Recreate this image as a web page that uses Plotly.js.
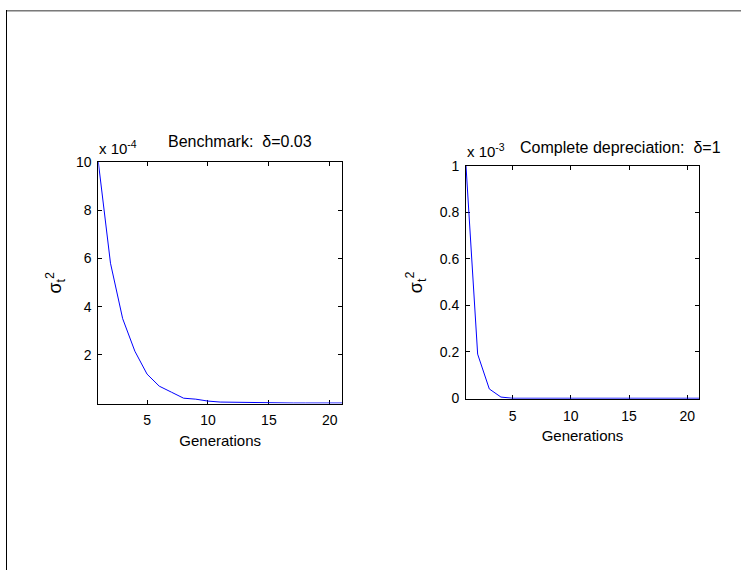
<!DOCTYPE html>
<html>
<head>
<meta charset="utf-8">
<script src="https://cdn.plot.ly/plotly-3.0.1.min.js"></script>
<style>html,body{margin:0;padding:0;background:#fff;}#chart{width:741px;height:570px;}</style>
</head>
<body>
<div id="chart"></div>
<script>
// Generations (x) shared by both panels
var generations = [1,2,3,4,5,6,7,8,9,10,11,12,13,14,15,16,17,18,19,20,21];
// Benchmark δ=0.03, values in units of 1e-4
var benchmarkVar = [10, 5.8, 3.5, 2.15, 1.2, 0.7, 0.45, 0.2, 0.16, 0.08, 0.04, 0.03, 0.01, 0, 0, 0, 0, 0, 0, 0, 0];
// Complete depreciation δ=1, values in units of 1e-3
var completeVar = [1, 0.19, 0.04, 0.005, 0, 0, 0, 0, 0, 0, 0, 0, 0, 0, 0, 0, 0, 0, 0, 0, 0];
var yTicks1 = [2, 4, 6, 8, 10];
var yTicks2 = [0, 0.2, 0.4, 0.6, 0.8, 1];
var xTicks = [5, 10, 15, 20];
var titles = ["Benchmark:\u00a0 δ=0.03", "Complete depreciation:\u00a0 δ=1"];
var exponents = ["x 10<sup>-4</sup>", "x 10<sup>-3</sup>"];
var xLabel = "Generations";
var yLabel = "σ<sub>t</sub><sup>2</sup>";

var W = 741, H = 570;
function px(x){return x / W;}
function py(y){return 1 - y / H;}
var FONT = "Liberation Sans, Arial, sans-serif";

var traces = [
  {x: generations, y: benchmarkVar, type: "scatter", mode: "lines", line: {color: "#0000ff", width: 1}, xaxis: "x", yaxis: "y", hoverinfo: "skip"},
  {x: generations, y: completeVar, type: "scatter", mode: "lines", line: {color: "#0000ff", width: 1}, xaxis: "x2", yaxis: "y2", hoverinfo: "skip"}
];

function axisBase(){
  return {
    showline: true, linecolor: "#000", linewidth: 1, mirror: "ticks",
    ticks: "inside", ticklen: 4, tickcolor: "#000", tickwidth: 1,
    showgrid: false, zeroline: false, layer: "below traces",
    tickfont: {family: FONT, size: 14, color: "#000"}, fixedrange: true
  };
}
var xa1 = Object.assign(axisBase(), {domain: [px(98.3), px(342)], range: [1, 21], tickvals: xTicks, anchor: "y", ticklabelstandoff: 4,
  title: {text: xLabel, font: {family: FONT, size: 15, color: "#000"}, standoff: 8}});
var ya1 = Object.assign(axisBase(), {domain: [py(403.5), py(162)], range: [-0.02, 10], tickvals: yTicks1, anchor: "x", ticklabelstandoff: 3,
  title: {text: yLabel, font: {family: FONT, size: 18, color: "#000"}, standoff: 9}});
var xa2 = Object.assign(axisBase(), {domain: [px(466), px(699)], range: [1, 21], tickvals: xTicks, anchor: "y2", ticklabelstandoff: 4,
  title: {text: xLabel, font: {family: FONT, size: 15, color: "#000"}, standoff: 7}});
var ya2 = Object.assign(axisBase(), {domain: [py(398.7), py(166)], range: [-0.002, 1], tickvals: yTicks2, anchor: "x2", ticklabelstandoff: 3,
  ticktext: ["0","0.2","0.4","0.6","0.8","1"],
  title: {text: yLabel, font: {family: FONT, size: 18, color: "#000"}, standoff: 12}});

var layout = {
  width: W, height: H,
  margin: {l: 0, r: 0, t: 0, b: 0, autoexpand: false},
  paper_bgcolor: "#fff", plot_bgcolor: "#fff",
  showlegend: false,
  xaxis: xa1, yaxis: ya1, xaxis2: xa2, yaxis2: ya2,
  annotations: [
    {text: titles[0], xref: "paper", yref: "paper", x: px(166), y: py(141.5), xanchor: "left", yanchor: "middle", showarrow: false, font: {family: FONT, size: 16, color: "#000"}},
    {text: titles[1], xref: "paper", yref: "paper", x: px(518), y: py(148), xanchor: "left", yanchor: "middle", showarrow: false, font: {family: FONT, size: 16, color: "#000"}},
    {text: exponents[0], xref: "paper", yref: "paper", x: px(97), y: py(147), xanchor: "left", yanchor: "middle", showarrow: false, font: {family: FONT, size: 15, color: "#000"}},
    {text: exponents[1], xref: "paper", yref: "paper", x: px(465), y: py(151), xanchor: "left", yanchor: "middle", showarrow: false, font: {family: FONT, size: 15, color: "#000"}}
  ],
  shapes: [
    {type: "line", xref: "paper", yref: "paper", x0: px(6), x1: 1, y0: py(10.5), y1: py(10.5), line: {color: "#7a7a7a", width: 1}},
    {type: "line", xref: "paper", yref: "paper", x0: px(6), x1: 1, y0: py(11.5), y1: py(11.5), line: {color: "#b8b8b8", width: 1}},
    {type: "line", xref: "paper", yref: "paper", x0: px(6.5), x1: px(6.5), y0: py(10), y1: 0, line: {color: "#000", width: 1}}
  ]
};
Plotly.newPlot("chart", traces, layout, {staticPlot: true, displayModeBar: false});
</script>
</body>
</html>
